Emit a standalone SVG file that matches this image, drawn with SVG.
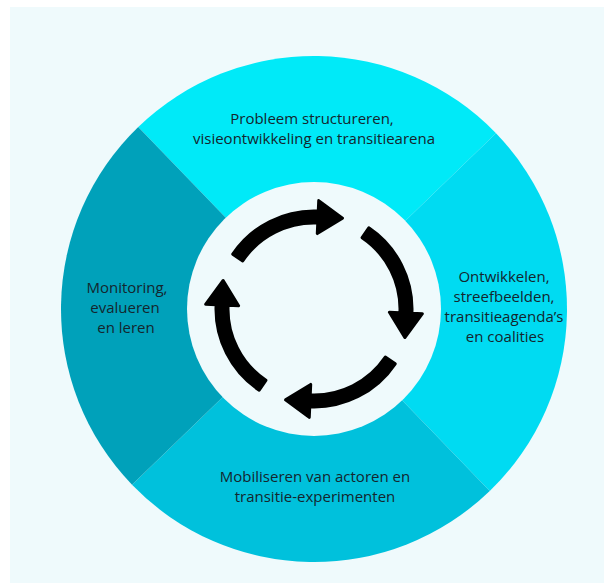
<svg xmlns="http://www.w3.org/2000/svg" width="604" height="583" viewBox="0 0 604 583">
<style>
.lbl{font-family:"Open Sans","Noto Sans","Liberation Sans",sans-serif;font-size:15px;fill:#14262e;text-anchor:middle}
.arr{fill:#000;stroke:#000;stroke-width:3;stroke-linejoin:round}
</style>
<defs>
<path id="arrow" class="arr" d="M -71.30,-48.09 L -81.25,-54.80 A 98 98 0 0 1 4.27,-97.91 L 4.73,-108.40 L 28.49,-90.84 L 3.29,-75.43 L 3.75,-85.92 A 86 86 0 0 0 -71.30,-48.09 Z"/>
</defs>
<rect width="604" height="583" fill="#ffffff"/>
<rect x="10" y="7" width="594" height="576" fill="#effafc"/>
<g id="top">
<path d="M314,309 L138.25,127.01 A253 253 0 0 1 495.99,133.25 Z" fill="#00eaf8"/>
<text class="lbl" x="312" y="124">Probleem structureren,</text>
<text class="lbl" x="314" y="143.5">visieontwikkeling en transitiearena</text>
</g>
<g id="right">
<path d="M314,309 L495.99,133.25 A253 253 0 0 1 489.75,490.99 Z" fill="#00dbf2"/>
<text class="lbl" x="504" y="282">Ontwikkelen,</text>
<text class="lbl" x="504" y="302">streefbeelden,</text>
<text class="lbl" x="504" y="322">transitieagenda’s</text>
<text class="lbl" x="505" y="342">en coalities</text>
</g>
<g id="bottom">
<path d="M314,309 L489.75,490.99 A253 253 0 0 1 132.01,484.75 Z" fill="#00c1dc"/>
<text class="lbl" x="315" y="482">Mobiliseren van actoren en</text>
<text class="lbl" x="315" y="502">transitie-experimenten</text>
</g>
<g id="left">
<path d="M314,309 L132.01,484.75 A253 253 0 0 1 138.25,127.01 Z" fill="#00a1ba"/>
<text class="lbl" x="127" y="293">Monitoring,</text>
<text class="lbl" x="125" y="313">evalueren</text>
<text class="lbl" x="126" y="333">en leren</text>
</g>
<circle id="hub" cx="314" cy="309" r="127" fill="#effafc"/>
<g id="connectors" transform="translate(314,309)">
<use href="#arrow"/>
<use href="#arrow" transform="rotate(90)"/>
<use href="#arrow" transform="rotate(180)"/>
<use href="#arrow" transform="rotate(270)"/>
</g>
</svg>
